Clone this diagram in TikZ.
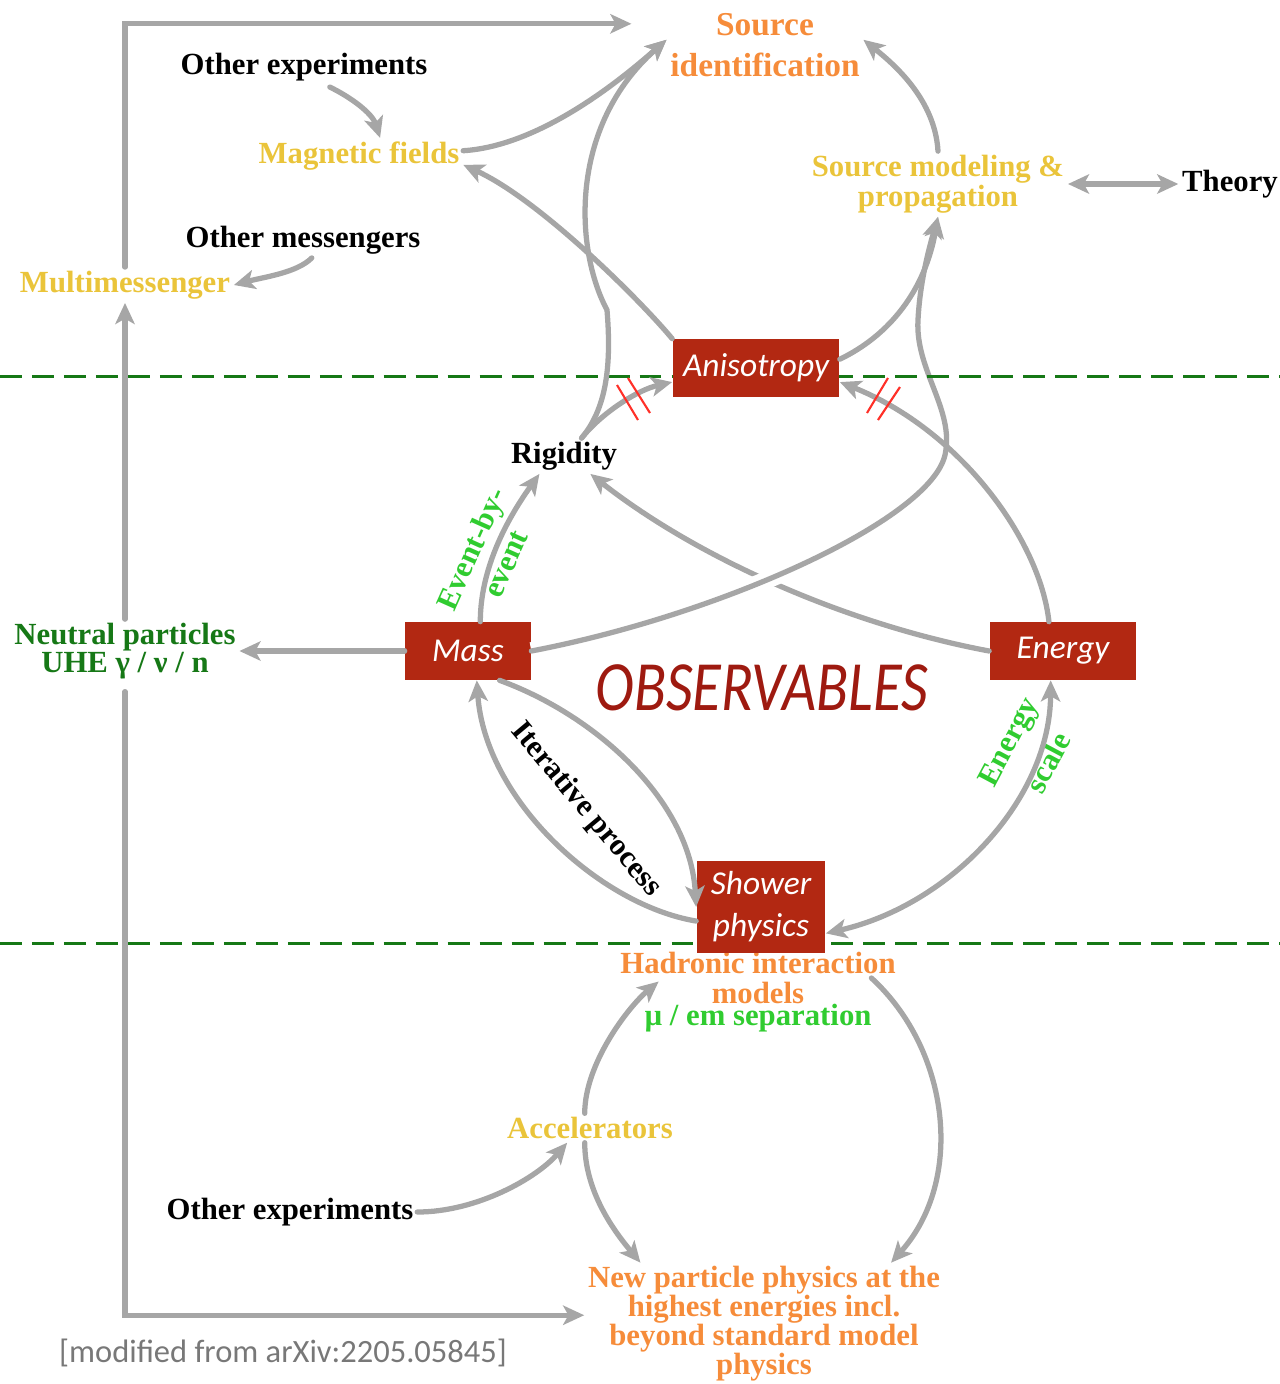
\documentclass[tikz,border=0pt]{standalone}
\usepackage{fontspec}
\setmainfont{Liberation Serif}
\newfontfamily\boxfont{Carlito}
\usetikzlibrary{arrows.meta}

\definecolor{arrgray}{RGB}{166,166,166}
\definecolor{srcorange}{RGB}{246,140,58}
\definecolor{srcyellow}{RGB}{234,196,58}
\definecolor{darkgreen}{RGB}{22,120,22}
\definecolor{brightgreen}{RGB}{48,204,48}
\definecolor{boxred}{RGB}{178,40,18}
\definecolor{obsred}{RGB}{158,26,16}
\definecolor{slashred}{RGB}{255,48,40}
\definecolor{citegray}{RGB}{120,120,120}

\begin{document}
\begin{tikzpicture}[
    x=0.02cm, y=-0.02cm,
    >={Stealth[length=12pt,width=11pt,inset=3pt]},
    txt/.style={font=\bfseries\fontsize{17.5}{17}\selectfont, align=center, inner sep=2pt},
    obs/.style={rectangle, fill=boxred, text=white, font=\boxfont\itshape\fontsize{19}{24}\selectfont, align=center, inner sep=0pt, minimum height=1.16cm},
    arrow/.style={->, draw=arrgray, line width=3pt, line cap=round},
    dashline/.style={draw=darkgreen, line width=1.7pt, dash pattern=on 12.5pt off 5.7pt},
    nogo/.style={draw=slashred, line width=1.2pt}
]
\useasboundingbox (0,0) rectangle (1280,1384);

% Texts
\node[txt, text=srcorange, font=\bfseries\fontsize{19}{23}\selectfont] (srcid) at (765,45) {Source\\identification};
\node[txt] (oexp1) at (304,67) {Other experiments};
\node[txt, text=srcyellow] (magf) at (359,156) {Magnetic fields};
\node[txt, text=srcyellow] (srcmod) at (938,184) {Source modeling \&\\propagation};
\node[txt] (theory) at (1230,184) {Theory};
\node[txt] (omsg) at (303,240) {Other messengers};
\node[txt, text=srcyellow] (multim) at (125,285) {Multimessenger};
\node[txt] (rig) at (564,456) {Rigidity};
\node[txt, text=darkgreen, font=\bfseries\fontsize{17.5}{16}\selectfont] (neut) at (125,651) {Neutral particles\\UHE γ / ν / n};

\node[txt, text=brightgreen, font=\bfseries\fontsize{17.5}{21}\selectfont, rotate=66] (ebe) at (488,556) {Event-by-\\event};
\node[txt, rotate=-50] (iter) at (586,810) {Iterative process};
\node[txt, text=brightgreen, font=\bfseries\fontsize{17.5}{26}\selectfont, rotate=62] (escale) at (1028,752) {Energy\\scale};
\node[font=\boxfont\itshape\fontsize{33.5}{40}\selectfont, text=obsred, yscale=1.2] (observ) at (762,688) {OBSERVABLES};

\node[txt, text=srcorange] (hadr) at (758,978) {Hadronic interaction\\models};
\node[txt, text=brightgreen] (muem) at (758,1018) {µ / em separation};
\node[txt, text=srcyellow] (acc) at (590,1128) {Accelerators};
\node[txt] (oexp2) at (290,1212) {Other experiments};
\node[txt, text=srcorange, font=\bfseries\fontsize{17.5}{16.5}\selectfont] (newp) at (764,1324) {New particle physics at the\\highest energies incl.\\beyond standard model\\physics};
\node[font=\boxfont\fontsize{18.5}{20}\selectfont, text=citegray] (cite) at (283,1353) {[modified from arXiv:2205.05845]};

% Observables (off the dashed lines)
\node[obs, minimum width=2.52cm] (mass) at (468,651) {Mass};
\node[obs, minimum width=2.94cm] (energy) at (1063,651) {Energy};

% Crossing: energy -> rigidity runs under mass -> source modeling
\draw[arrow] (energy.west) .. controls (850,625) and (700,560) .. ([xshift=15pt]rig.south);
\draw[arrow, preaction={draw=white, line width=10pt, line cap=butt}] (mass.east) .. controls (720,615) and (930,520) .. (945,455) .. controls (955,410) and (915,370) .. (918,320) .. controls (920,280) and (930,245) .. (srcmod.south);

% Dashed lines
\draw[dashline] (0,376) -- (1280,376);
\draw[dashline] (0,943) -- (1280,943);

\node[obs, minimum width=3.34cm] (aniso) at (756,368) {Anisotropy};
\node[obs, minimum width=2.58cm, minimum height=1.84cm] (shower) at (761,907) {Shower\\physics};

% Upper loop
\draw[arrow] ([yshift=3pt]magf.east) .. controls +(80,-5) and +(-40,35) .. ([yshift=3pt]srcid.west);
\draw[arrow] ([xshift=10pt]rig.north) .. controls (605,410) and (612,370) .. (607,310) .. controls (575,250) and (568,127) .. ([yshift=3pt]srcid.west);
\draw[arrow] ([xshift=10pt]rig.north) .. controls +(20,-25) and +(-35,8) .. ([yshift=-8pt]aniso.west);
\draw[arrow] (aniso.north west) .. controls (640,300) and (540,200) .. ([yshift=-5pt]magf.east);
\draw[arrow] ([yshift=5pt]aniso.east) .. controls (890,335) and (925,290) .. (srcmod.south);
\draw[arrow] ([xshift=-8pt]energy.north) .. controls (1040,540) and (960,430) .. ([yshift=-8pt]aniso.east);
\draw[arrow] (srcmod.north) .. controls (935,100) and (895,65) .. ([yshift=3pt]srcid.east);
\draw[arrow, <->] (srcmod.east) -- (theory.west);
\draw[arrow, shorten <=3pt] ([xshift=12pt]oexp1.south) .. controls +(25,12) and +(-8,-25) .. ([xshift=12pt]magf.north);
\draw[arrow] ([xshift=5pt]omsg.south) .. controls +(-15,15) and +(30,-8) .. (multim.east);

% Not-equal marks
\draw[nogo] (617,385) -- (638,420);
\draw[nogo] (628,378) -- (650,413);
\draw[nogo] (888,378) -- (867,413);
\draw[nogo] (900,387) -- (878,420);

% Observables
\draw[arrow] ([xshift=7pt]mass.north) .. controls +(0,-60) and +(-25,35) .. ([xshift=-14pt]rig.south);
\draw[arrow] (mass.west) -- (neut.east);
\draw[arrow] ([yshift=-8pt]shower.west) .. controls (600,905) and (485,800) .. ([xshift=5pt]mass.south);
\draw[arrow] ([xshift=18pt]mass.south) .. controls (595,715) and (690,800) .. (shower.west);
\draw[arrow, <->] ([yshift=-15pt]shower.east) .. controls (950,905) and (1050,800) .. ([xshift=-7pt]energy.south);

% Outer frame
\draw[arrow] (multim.north) |- ([xshift=-20pt,yshift=-8pt]srcid.north west);
\draw[arrow] (neut.north) -- (neut.north |- multim.south);
\draw[arrow, shorten <=5pt] (neut.south) |- ([yshift=5pt]newp.west);

% Lower loop
\draw[arrow] ([xshift=-3pt]acc.north) .. controls +(0,-50) and +(-30,25) .. ([xshift=24pt,yshift=-2pt]hadr.west);
\draw[arrow] ([xshift=-16pt]hadr.east) .. controls (950,1050) and (965,1180) .. ([xshift=-30pt]newp.north east);
\draw[arrow] ([xshift=-3pt]acc.south) .. controls +(0,50) and +(-25,-30) .. ([xshift=32pt]newp.north west);
\draw[arrow] (oexp2.east) .. controls +(60,0) and +(-30,35) .. ([xshift=-13pt]acc.south);

\end{tikzpicture}
\end{document}
